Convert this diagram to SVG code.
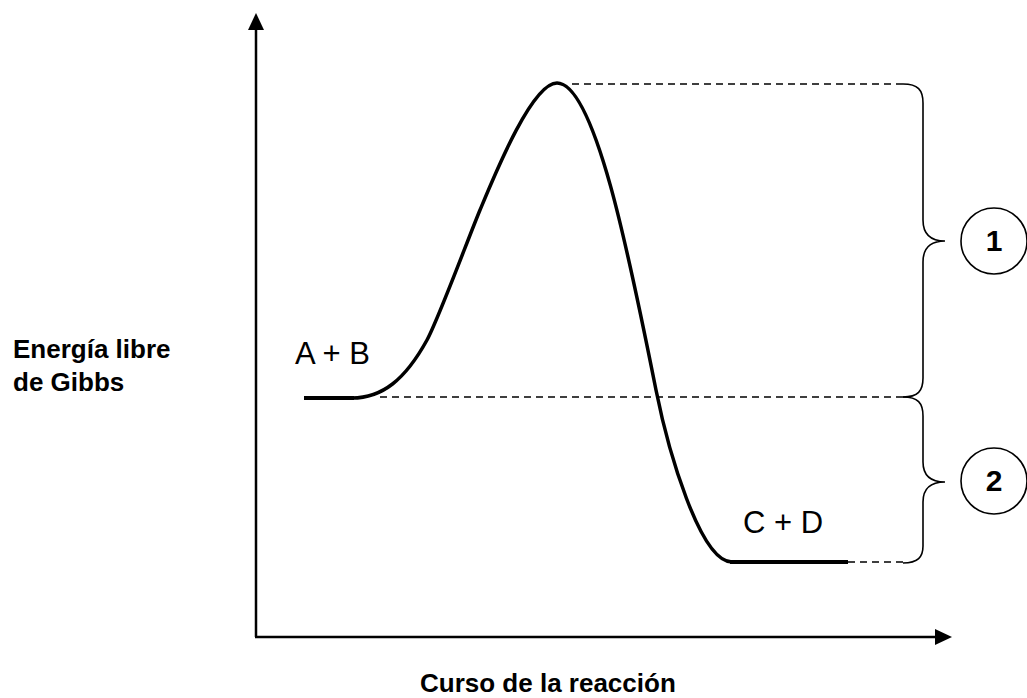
<svg xmlns="http://www.w3.org/2000/svg" width="1027" height="698" viewBox="0 0 1027 698">
  <style>
    .axis { stroke: #000; stroke-width: 2.5; fill: none; }
    .curve { stroke: #000; stroke-width: 3.5; fill: none; stroke-linejoin: round; }
    .flat { stroke: #000; stroke-width: 4; fill: none; }
    .dash { stroke: #000; stroke-width: 1.5; fill: none; stroke-dasharray: 7 5; }
    .brace { stroke: #000; stroke-width: 1.6; fill: none; }
    .circ { stroke: #000; stroke-width: 1.6; fill: #fff; }
    .lbl { font-family: "Liberation Sans", Arial, sans-serif; fill: #000; }
    .bold { font-weight: bold; }
  </style>
  <rect x="0" y="0" width="1027" height="698" fill="#fff"/>

  <g id="axes">
    <line class="axis" x1="256" y1="637" x2="256" y2="28"/>
    <polygon points="256,13 248,30 264,30" fill="#000"/>
    <line class="axis" x1="255" y1="637" x2="937" y2="637"/>
    <polygon points="952,637 935,629 935,645" fill="#000"/>
  </g>

  <g id="connectors">
    <line class="dash" x1="572" y1="84" x2="903" y2="84"/>
    <line class="dash" x1="380" y1="397" x2="903" y2="397"/>
    <line class="dash" x1="848" y1="562" x2="903" y2="562"/>
    <path class="brace" d="M903,84 C918,84 923,90 923,103 L923,220 C923,234 930,241 945,241 C930,241 923,248 923,262 L923,378 C923,391 918,397 903,397"/>
    <path class="brace" d="M903,397 C918,397 923,403 923,416 L923,462 C923,475 930,482 945,482 C930,482 923,489 923,502 L923,546 C923,557 918,563 903,563"/>
  </g>

  <g id="energy-curve">
    <line class="flat" x1="304" y1="398" x2="354" y2="398"/>
    <path class="curve" d="M352,398 C382,398 405,380 427,340 C438,320 468,239 480,210 C495,174 532,83 557,83 C595,83 630,260 656,390 C668,450 700,562 732,562"/>
    <line class="flat" x1="730" y1="562" x2="848" y2="562"/>
  </g>

  <g id="label-ab">
    <text class="lbl" x="295" y="364" font-size="31">A + B</text>
  </g>
  <g id="label-cd">
    <text class="lbl" x="743" y="533" font-size="31">C + D</text>
  </g>

  <g id="node-1">
    <circle class="circ" cx="994" cy="241" r="33"/>
    <text class="lbl bold" x="994" y="251" font-size="30" text-anchor="middle">1</text>
  </g>
  <g id="node-2">
    <circle class="circ" cx="994" cy="481" r="33"/>
    <text class="lbl bold" x="994" y="491" font-size="30" text-anchor="middle">2</text>
  </g>

  <g id="label-y">
    <text class="lbl bold" x="13" y="358" font-size="26">Energía libre</text>
    <text class="lbl bold" x="13" y="391" font-size="26">de Gibbs</text>
  </g>
  <g id="label-x">
    <text class="lbl bold" x="420" y="692" font-size="26">Curso de la reacción</text>
  </g>
</svg>
